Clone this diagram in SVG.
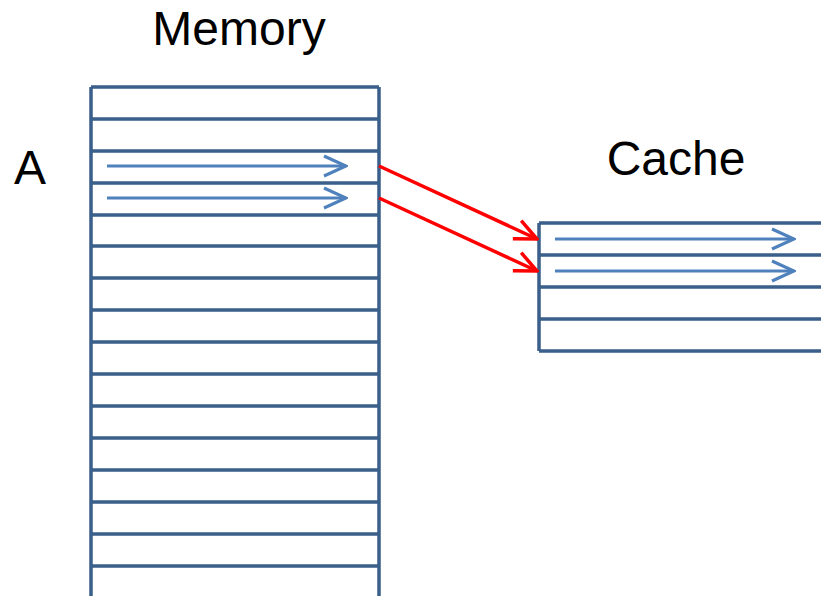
<svg xmlns="http://www.w3.org/2000/svg" width="821" height="596" viewBox="0 0 821 596">
<style>
.lbl{font-family:"Liberation Sans",Arial,sans-serif;font-size:48px;fill:#000}
.grid{stroke:#3A5F8B;stroke-width:3.5;fill:none}
.blue{stroke:#4F81BD;stroke-width:3.2;fill:none}
.red{stroke:#FF0000;stroke-width:3.5;fill:none}
</style>
<defs>
<marker id="ab" markerUnits="userSpaceOnUse" viewBox="-24 -12 26 24" refX="0" refY="0" markerWidth="26" markerHeight="24" orient="auto">
<path d="M-22,-10 L0,0 L-22,10" fill="none" stroke="#4F81BD" stroke-width="3.2"/>
</marker>
<marker id="ar" markerUnits="userSpaceOnUse" viewBox="-24 -12 26 24" refX="0" refY="0" markerWidth="26" markerHeight="24" orient="auto">
<path d="M-22,-10 L0,0 L-22,10" fill="none" stroke="#FF0000" stroke-width="3.5"/>
</marker>
</defs>
<rect width="821" height="596" fill="#fff"/>
<text class="lbl" x="239" y="45" text-anchor="middle">Memory</text>
<text class="lbl" x="676" y="175" text-anchor="middle">Cache</text>
<text class="lbl" x="30" y="184" text-anchor="middle">A</text>
<g id="memory">
<path class="grid" d="M91,87 V600 M379,87 V600
M91,87 H379 M91,119 H379 M91,151 H379 M91,183 H379 M91,215 H379 M91,246 H379 M91,278 H379 M91,310 H379
M91,342 H379 M91,374 H379 M91,406 H379 M91,438 H379 M91,470 H379 M91,502 H379 M91,534 H379 M91,566 H379"/>
<line class="blue" x1="107" y1="166" x2="346" y2="166" marker-end="url(#ab)"/>
<line class="blue" x1="107" y1="198" x2="346" y2="198" marker-end="url(#ab)"/>
</g>
<g id="cache">
<path class="grid" d="M539,223 V351 M539,223 H825 M539,255 H825 M539,287 H825 M539,319 H825 M539,351 H825"/>
<line class="blue" x1="555" y1="239" x2="794" y2="239" marker-end="url(#ab)"/>
<line class="blue" x1="555" y1="271" x2="794" y2="271" marker-end="url(#ab)"/>
</g>
<g id="connectors">
<line class="red" x1="379" y1="166" x2="537" y2="239" marker-end="url(#ar)"/>
<line class="red" x1="379" y1="198" x2="537" y2="271" marker-end="url(#ar)"/>
</g>
</svg>
